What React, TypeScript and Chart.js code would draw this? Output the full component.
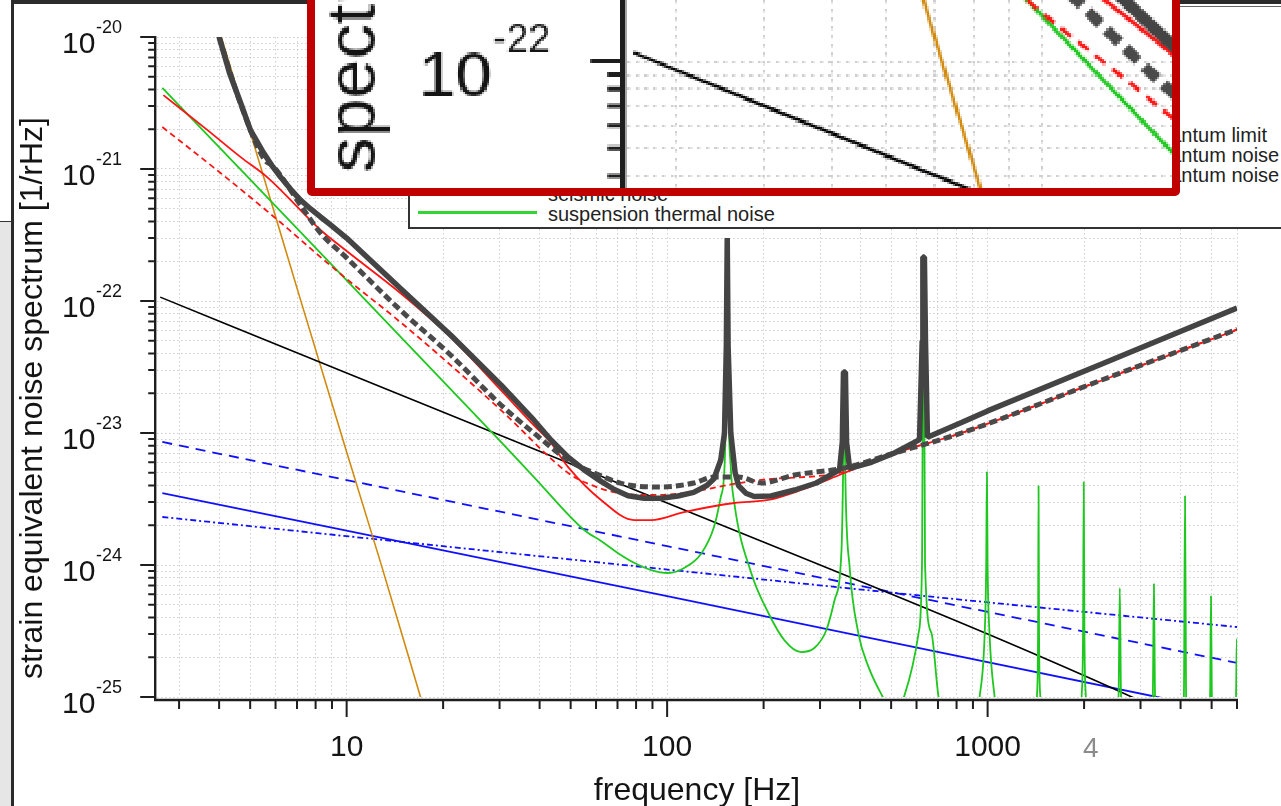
import React, { useEffect, useRef } from "react";
import { Chart, registerables } from "chart.js";

Chart.register(...registerables);

type Pt = [number, number];

// ---------- axis ranges and ticks ----------
const FREQ_MIN = 2.56;
const FREQ_MAX = 6000;
const STRAIN_MIN = 1e-25;
const STRAIN_MAX = 1e-20;

const xMajorTicks = [10, 100, 1000];
const xTickLabels = ["10", "100", "1000"];
const xMinorTicks = [
  3, 4, 5, 6, 7, 8, 9, 20, 30, 40, 50, 60, 70, 80, 90, 200, 300, 400, 500, 600,
  700, 800, 900, 2000, 3000, 4000, 5000, 6000,
];
const yMajorTicks = [1e-25, 1e-24, 1e-23, 1e-22, 1e-21, 1e-20];
const yTickExponents = ["-25", "-24", "-23", "-22", "-21", "-20"];
const yMinorTicks = [
  2e-25, 3e-25, 4e-25, 5e-25, 6e-25, 7e-25, 8e-25, 9e-25,
  2e-24, 3e-24, 4e-24, 5e-24, 6e-24, 7e-24, 8e-24, 9e-24,
  2e-23, 3e-23, 4e-23, 5e-23, 6e-23, 7e-23, 8e-23, 9e-23,
  2e-22, 3e-22, 4e-22, 5e-22, 6e-22, 7e-22, 8e-22, 9e-22,
  2e-21, 3e-21, 4e-21, 5e-21, 6e-21, 7e-21, 8e-21, 9e-21,
];

const xTitle = "frequency [Hz]";
const yTitle = "strain equivalent noise spectrum [1/rHz]";

// ---------- series: [frequency Hz, strain 1/rHz] ----------
const totalSolid: Pt[] = [
  [3.95, 1.15e-20], [4.01, 9.8e-21], [4.31, 5.33e-21], [4.67, 3.16e-21], [5.01, 1.97e-21],
  [5.51, 1.32e-21], [5.83, 1.07e-21], [6.22, 8.7e-22], [6.68, 7.05e-22], [7.18, 5.82e-22],
  [7.72, 4.98e-22], [8.29, 4.33e-22], [8.91, 3.77e-22], [10.0, 3.0e-22], [14.7, 1.25e-22],
  [21.1, 5.52e-23], [30.3, 2.31e-23], [38.4, 1.25e-23], [43.4, 8.85e-24], [49.1, 6.57e-24],
  [55.1, 5.25e-24], [62.2, 4.3e-24], [68.2, 3.75e-24], [75.5, 3.35e-24], [84.8, 3.2e-24],
  [95.7, 3.2e-24], [108, 3.33e-24], [121, 3.55e-24], [133, 4.0e-24], [140, 4.5e-24],
  [147, 6.24e-24], [151, 1.0e-23], [153, 4.5e-23], [154, 3.0e-22], [155, 4.5e-23],
  [158, 1.0e-23], [163, 5.0e-24], [167, 4.0e-24], [176, 3.5e-24], [187, 3.3e-24],
  [211, 3.33e-24], [250, 3.7e-24], [292, 4.18e-24], [345, 5.25e-24], [352, 8.5e-24],
  [355, 2.9e-23], [360, 2.9e-23], [363, 8.5e-24], [371, 5.4e-24], [434, 6.0e-24],
  [512, 7.05e-24], [613, 8.9e-24], [625, 5.0e-23], [628, 2.15e-22], [635, 2.15e-22],
  [640, 5.0e-23], [649, 9.3e-24], [829, 1.2e-23], [1000, 1.47e-23], [2270, 3.33e-23],
  [6000, 8.85e-23],
];

const totalDashed: Pt[] = [
  [4.01, 9.8e-21], [4.67, 3.1e-21], [5.51, 1.2e-21], [5.92, 1.04e-21], [7.18, 5.33e-22],
  [8.29, 3.27e-22], [10.0, 2.12e-22], [14.7, 8.55e-23], [21.1, 3.9e-23], [30.3, 1.63e-23],
  [38.4, 1.0e-23], [49.1, 6.24e-24], [59.2, 4.98e-24], [75.5, 4.04e-24], [95.7, 3.9e-24],
  [121, 4.18e-24], [140, 4.64e-24], [167, 4.64e-24], [197, 4.18e-24], [250, 4.81e-24],
  [357, 5.43e-24], [512, 7.05e-24], [829, 1.0e-23], [2270, 2.52e-23], [6000, 6.1e-23],
];

const quantumDashed: Pt[] = [
  [2.66, 2.08e-21], [4.04, 9.33e-22], [6.09, 4.11e-22], [8.29, 2.15e-22], [10.0, 1.47e-22],
  [14.7, 6.93e-23], [21.1, 3.27e-23], [30.3, 1.49e-23], [49.1, 4.98e-24], [55.1, 4.25e-24],
  [70.3, 3.51e-24], [89.1, 3.39e-24], [113, 3.51e-24], [144, 3.9e-24], [155, 4.04e-24],
  [197, 4.41e-24], [357, 5.07e-24], [512, 7.05e-24], [829, 1.0e-23], [2270, 2.52e-23],
  [6000, 6.1e-23],
];

const quantumSolid: Pt[] = [
  [2.68, 3.63e-21], [3.68, 1.97e-21], [4.67, 1.23e-21], [5.67, 8.6e-22], [8.29, 3.45e-22],
  [10.0, 2.39e-22], [14.7, 1.15e-22], [21.1, 5.33e-23], [30.3, 2.11e-23], [38.4, 1.14e-23],
  [43.4, 8.4e-24], [49.1, 5.52e-24], [62.2, 3.11e-24], [78.9, 2.19e-24], [89.1, 2.19e-24],
  [113, 2.52e-24], [162, 2.95e-24], [207, 3.11e-24], [262, 3.7e-24], [333, 4.64e-24],
  [357, 4.98e-24], [512, 7.0e-24], [829, 1.0e-23], [2270, 2.5e-23], [6000, 6.05e-23],
];

const suspensionThermal: Pt[] = [
  [2.66, 4.11e-21], [4.91, 8.7e-22], [30.3, 8.55e-24], [38.4, 4.64e-24], [55.1, 1.84e-24],
  [62.2, 1.52e-24], [70.3, 1.23e-24], [78.9, 1.04e-24], [89.1, 9.16e-25], [100.7, 8.7e-25],
  [113, 9.49e-25], [128, 1.23e-24],
  [140, 1.94e-24], [147, 3.27e-24], [151, 5.52e-24], [153, 2.5e-23], [154, 2.9e-22],
  [155, 2.5e-23], [158, 5.5e-24], [162, 2.95e-24], [183, 8.7e-25], [207, 4.33e-25],
  [232, 2.7e-25], [262, 2.19e-25], [288, 2.35e-25], [314, 3.22e-25], [333, 5.43e-25],
  [350, 1.3e-24], [354, 4.8e-24], [357, 2.8e-23], [360, 4.4e-24], [371, 9.66e-25],
  [395, 3.05e-25], [425, 1.69e-25], [467, 1.04e-25], [510, 7.5e-26], [551, 1.04e-25],
  [609, 3.05e-25], [624, 1.0e-24], [631, 2.1e-22], [638, 1.0e-24], [668, 3.05e-25],
  [703, 1.0e-25], [760, 6.0e-26],
  [900, 5e-26], [944, 1.0e-25], [979, 3.0e-25], [990, 1.0e-24], [995, 5.07e-24],
  [1000, 1.0e-24], [1014, 3.0e-25], [1052, 1.0e-25], [1100, 5e-26],
  [1400, 5e-26], [1425, 1.0e-25], [1437, 3.0e-25], [1442, 3.97e-24], [1447, 3.0e-25],
  [1460, 1.0e-25], [1490, 5e-26],
  [1940, 5e-26], [1965, 1.0e-25], [1985, 3.0e-25], [1995, 4.25e-24], [2005, 3.0e-25],
  [2025, 1.0e-25], [2050, 5e-26],
  [2540, 5e-26], [2565, 1.2e-25], [2585, 6.7e-25], [2605, 1.2e-25], [2630, 5e-26],
  [3250, 5e-26], [3280, 1.2e-25], [3303, 7.18e-25], [3326, 1.2e-25], [3360, 5e-26],
  [4060, 5e-26], [4100, 1.2e-25], [4130, 3.33e-24], [4160, 1.2e-25], [4200, 5e-26],
  [4900, 5e-26], [4950, 1.2e-25], [4977, 5.82e-25], [5005, 1.2e-25], [5050, 5e-26],
  [5920, 5e-26], [5965, 1.2e-25], [5990, 2.75e-25], [6020, 1.2e-25],
];

const seismic: Pt[] = [
  [4.01, 1.11e-20], [5.2, 1.39e-21], [7.18, 1.02e-22], [10.0, 7.18e-24], [12.8, 1.02e-24],
  [17.0, 1.0e-25], [18.5, 5.0e-26],
];

const blackNoise: Pt[] = [
  [2.62, 1.07e-22], [10.0, 2.85e-23], [100, 2.95e-24], [1000, 3.0e-25], [2818, 1.0e-25],
  [3000, 9.3e-26],
];

const mirrorSolid: Pt[] = [
  [2.66, 3.51e-24], [100, 5.82e-25], [3373, 1.0e-25], [3600, 9.7e-26],
];
const mirrorDashed: Pt[] = [
  [2.66, 8.55e-24], [100, 1.39e-24], [6000, 1.81e-25],
];
const mirrorDotted: Pt[] = [
  [2.66, 2.31e-24], [30.3, 1.25e-24], [512, 6.14e-25], [6000, 3.39e-25],
];

const FONT = '"Liberation Sans", Arial, Helvetica, sans-serif';

const toXY = (pts: Pt[]) => pts.map(([x, y]) => ({ x, y }));

const axesPlugin = {
  id: "manualAxes",
  afterDraw(chart: any) {
    const { ctx, chartArea: a, scales } = chart;
    const xs = scales.x;
    const ys = scales.y;
    const axisX = a.left - 1.8;
    const axisY = a.bottom + 3;
    ctx.save();
    ctx.strokeStyle = "#1e1e1e";
    ctx.lineCap = "butt";
    ctx.lineWidth = 2.4;
    ctx.beginPath();
    ctx.moveTo(axisX, a.top - 1);
    ctx.lineTo(axisX, axisY);
    ctx.lineTo(a.right + 1, axisY);
    ctx.stroke();

    ctx.lineWidth = 2;
    ctx.beginPath();
    yMajorTicks.forEach((v) => {
      const p = ys.getPixelForValue(v);
      ctx.moveTo(axisX - 15, p);
      ctx.lineTo(axisX, p);
    });
    yMinorTicks.forEach((v) => {
      const p = ys.getPixelForValue(v);
      ctx.moveTo(axisX - 7, p);
      ctx.lineTo(axisX, p);
    });
    xMajorTicks.forEach((v) => {
      const p = xs.getPixelForValue(v);
      ctx.moveTo(p, axisY);
      ctx.lineTo(p, axisY + 17);
    });
    xMinorTicks.forEach((v) => {
      const p = xs.getPixelForValue(v);
      ctx.moveTo(p, axisY);
      ctx.lineTo(p, axisY + 9);
    });
    ctx.stroke();

    ctx.fillStyle = "#141414";
    ctx.textBaseline = "alphabetic";
    ctx.textAlign = "left";
    yMajorTicks.forEach((v, i) => {
      const p = ys.getPixelForValue(v);
      ctx.font = `30px ${FONT}`;
      ctx.fillText("10", a.left - 95, p + 16);
      ctx.font = `18px ${FONT}`;
      ctx.fillText(yTickExponents[i], a.left - 61, p - 4);
    });

    ctx.textAlign = "center";
    ctx.font = `30px ${FONT}`;
    xMajorTicks.forEach((v, i) => {
      ctx.fillText(xTickLabels[i], xs.getPixelForValue(v), 756);
    });
    ctx.font = `32px ${FONT}`;
    ctx.fillText(xTitle, (a.left + a.right) / 2, 800);

    ctx.translate(42, 398);
    ctx.rotate(-Math.PI / 2);
    ctx.fillText(yTitle, 0, 0);
    ctx.restore();
  },
};

function buildConfig(): any {
  const ds = (
    label: string,
    pts: Pt[],
    color: string,
    width: number,
    dash: number[] = [],
    smooth = true
  ) => ({
    label,
    data: toXY(pts),
    borderColor: color,
    backgroundColor: color,
    borderWidth: width,
    borderDash: dash,
    borderJoinStyle: "bevel",
    borderCapStyle: "butt",
    pointRadius: 0,
    pointHoverRadius: 0,
    fill: false,
    tension: 0,
    cubicInterpolationMode: smooth ? "monotone" : "default",
  });
  const grid = { color: "#cfcfcf", lineWidth: 1, drawTicks: false };
  return {
    type: "line",
    data: {
      datasets: [
        ds("total noise", totalSolid, "#444444", 5.5, [], false),
        ds("total noise (dashed)", totalDashed, "#4a4a4a", 5, [8, 4]),
        ds("quantum noise (dashed)", quantumDashed, "#ff1414", 1.8, [6, 4]),
        ds("quantum noise", quantumSolid, "#ff1414", 1.8),
        ds("suspension thermal noise", suspensionThermal, "#1ec81e", 1.8),
        ds("black noise curve", blackNoise, "#000000", 1.6),
        ds("seismic noise", seismic, "#d18a0e", 1.6),
        ds("mirror thermal noise", mirrorSolid, "#1010ff", 1.8),
        ds("mirror thermal noise (dashed)", mirrorDashed, "#1010ff", 1.8, [10, 7]),
        ds("mirror thermal noise (dotted)", mirrorDotted, "#1010ff", 1.8, [6, 3, 2, 3]),
      ],
    },
    options: {
      responsive: false,
      maintainAspectRatio: false,
      animation: false,
      events: [],
      layout: { padding: { left: 157, top: 37, right: 44, bottom: 109 } },
      plugins: {
        legend: { display: false },
        tooltip: { enabled: false },
        title: { display: false },
      },
      scales: {
        x: {
          type: "logarithmic",
          min: FREQ_MIN,
          max: FREQ_MAX,
          afterBuildTicks: (s: any) => {
            s.ticks = [...xMinorTicks, ...xMajorTicks]
              .sort((p, q) => p - q)
              .map((v) => ({ value: v }));
          },
          afterFit: (s: any) => {
            s.height = 0;
          },
          ticks: { display: false },
          grid,
          border: { display: false, dash: [1.5, 2.5] },
        },
        y: {
          type: "logarithmic",
          min: STRAIN_MIN,
          max: STRAIN_MAX,
          afterBuildTicks: (s: any) => {
            s.ticks = [...yMinorTicks, ...yMajorTicks]
              .sort((p, q) => p - q)
              .map((v) => ({ value: v }));
          },
          afterFit: (s: any) => {
            s.width = 0;
          },
          ticks: { display: false },
          grid,
          border: { display: false, dash: [1.5, 2.5] },
        },
      },
    },
    plugins: [axesPlugin],
  };
}

const textStyle = (left: number, top: number, size: number, color = "#222"): React.CSSProperties => ({
  position: "absolute",
  left,
  top,
  fontFamily: FONT,
  fontSize: size,
  lineHeight: `${size}px`,
  color,
  whiteSpace: "nowrap",
});

export default function App() {
  const mainRef = useRef<HTMLCanvasElement>(null);
  const insetRef = useRef<HTMLCanvasElement>(null);

  useEffect(() => {
    const c1 = new Chart(mainRef.current as HTMLCanvasElement, buildConfig());
    const c2 = new Chart(insetRef.current as HTMLCanvasElement, buildConfig());
    return () => {
      c1.destroy();
      c2.destroy();
    };
  }, []);

  const SCALE = 2.19;
  const insetLeft = 307;
  const insetTop = -12;
  const border = 8;

  return (
    <div
      style={{
        position: "fixed",
        left: 0,
        top: 0,
        width: 1281,
        height: 806,
        overflow: "hidden",
        background: "#ffffff",
      }}
    >
      <canvas
        ref={mainRef}
        width={1281}
        height={806}
        style={{ position: "absolute", left: 0, top: 0, width: 1281, height: 806 }}
      />

      {/* slide frame */}
      <div style={{ position: "absolute", left: 0, top: 222, width: 11, height: 584, background: "#e6e6e6" }} />
      <div style={{ position: "absolute", left: 0, top: 221, width: 11, height: 1, background: "#333" }} />
      <div style={{ position: "absolute", left: 11, top: 0, width: 3, height: 806, background: "#2b2b2b" }} />
      <div style={{ position: "absolute", left: 11, top: 0, width: 1270, height: 4, background: "#2b2b2b" }} />

      {/* legend box */}
      <div
        style={{
          position: "absolute",
          left: 408,
          top: 6,
          width: 1000,
          height: 223,
          boxSizing: "border-box",
          borderLeft: "2px solid #333",
          borderBottom: "2px solid #333",
          borderTop: "1.5px solid #666",
          background: "#ffffff",
        }}
      />
      <div style={{ position: "absolute", left: 418, top: 191, width: 119, height: 3, background: "#d18a0e" }} />
      <div style={textStyle(548, 184, 20)}>seismic noise</div>
      <div style={{ position: "absolute", left: 418, top: 211, width: 119, height: 3, background: "#33d433" }} />
      <div style={textStyle(548, 204, 20)}>suspension thermal noise</div>
      <div style={textStyle(1148, 125, 20)}>quantum limit</div>
      <div style={textStyle(1148, 145, 20)}>quantum noise</div>
      <div style={textStyle(1148, 165, 20)}>quantum noise</div>

      {/* slide number */}
      <div style={textStyle(1083, 734, 28, "#8c8c8c")}>4</div>

      {/* magnified inset */}
      <div
        style={{
          position: "absolute",
          left: insetLeft,
          top: insetTop,
          width: 873,
          height: 208,
          boxSizing: "border-box",
          border: `${border}px solid #c00000`,
          borderRadius: 5,
          overflow: "hidden",
          background: "#ffffff",
        }}
      >
        <canvas
          ref={insetRef}
          width={1281}
          height={806}
          style={{
            position: "absolute",
            left: 283.2 - (insetLeft + border),
            top: -598.2 - (insetTop + border),
            width: 1281,
            height: 806,
            transform: `scale(${SCALE})`,
            transformOrigin: "0 0",
            imageRendering: "pixelated",
          }}
        />
      </div>
    </div>
  );
}
